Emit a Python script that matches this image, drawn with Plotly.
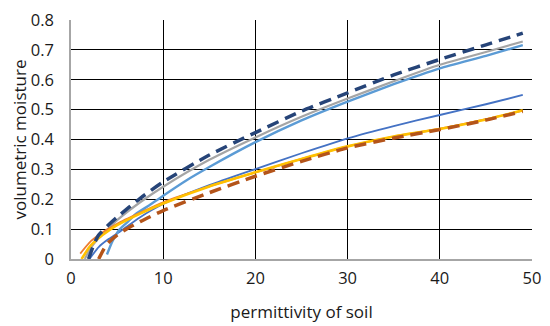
import plotly.graph_objects as go

# Data (permittivity -> volumetric moisture)
x_darkblue = [1.9, 2.5, 3.0, 4.0, 5.0, 7.5, 10, 15, 20, 25, 30, 35, 40, 45, 49]
y_darkblue = [0.0, 0.05, 0.08, 0.112, 0.14, 0.203, 0.258, 0.348, 0.423, 0.495, 0.556, 0.616, 0.668, 0.717, 0.756]

x_gray = [1.5, 2, 3, 4, 5, 7.5, 10, 15, 20, 25, 30, 35, 40, 45, 49]
y_gray = [0.0, 0.03, 0.07, 0.1, 0.13, 0.19, 0.242, 0.332, 0.407, 0.476, 0.537, 0.595, 0.65, 0.693, 0.728]

x_lightblue = [3.9, 4.5, 5.3, 6, 7, 8.5, 10, 12.5, 15, 20, 25, 30, 35, 40, 45, 49]
y_lightblue = [0.015, 0.06, 0.1, 0.12, 0.15, 0.18, 0.212, 0.263, 0.308, 0.391, 0.464, 0.527, 0.585, 0.638, 0.68, 0.716]

x_blue = [2.0, 3, 4, 5, 7.5, 10, 15, 20, 25, 30, 35, 40, 45, 49]
y_blue = [0.0, 0.04, 0.065, 0.085, 0.14, 0.184, 0.247, 0.301, 0.354, 0.404, 0.445, 0.482, 0.518, 0.549]

x_orange = [1.0, 2, 3, 4, 5, 7.5, 10, 15, 20, 25, 30, 35, 40, 45, 49]
y_orange = [0.018, 0.055, 0.08, 0.1, 0.118, 0.155, 0.19, 0.243, 0.29, 0.335, 0.377, 0.41, 0.436, 0.468, 0.497]

x_yellow = [1.15, 2, 3, 4, 5, 7.5, 10, 15, 20, 25, 30, 35, 40, 45, 49]
y_yellow = [0.0, 0.04, 0.07, 0.093, 0.113, 0.152, 0.186, 0.243, 0.29, 0.335, 0.377, 0.41, 0.435, 0.467, 0.498]

x_brown = [3.0, 3.5, 4, 5, 6, 7.5, 10, 15, 20, 25, 30, 35, 40, 45, 49]
y_brown = [0.0, 0.03, 0.053, 0.08, 0.1, 0.125, 0.162, 0.222, 0.277, 0.327, 0.372, 0.405, 0.433, 0.465, 0.494]

x_ticks = [0, 10, 20, 30, 40, 50]
y_ticks = [0, 0.1, 0.2, 0.3, 0.4, 0.5, 0.6, 0.7, 0.8]
y_ticklabels = ["0", "0.1", "0.2", "0.3", "0.4", "0.5", "0.6", "0.7", "0.8"]

fig = go.Figure()

def add(x, y, color, width, dash="solid"):
    fig.add_trace(go.Scatter(x=x, y=y, mode="lines",
                             line=dict(color=color, width=width, dash=dash, shape="spline", smoothing=0.6),
                             showlegend=False, hoverinfo="skip"))

add(x_blue, y_blue, "#4472C4", 1.8)
add(x_gray, y_gray, "#A5A5A5", 2.2)
add(x_lightblue, y_lightblue, "#5B9BD5", 2.4)
add(x_orange, y_orange, "#ED7D31", 1.8)
add(x_yellow, y_yellow, "#FFC000", 2.6)
add(x_brown, y_brown, "#B4541A", 3.5, "12px,7px")
add(x_darkblue, y_darkblue, "#264478", 3.5, "12px,7px")

font = dict(family="Open Sans, sans-serif", size=16.5, color="#1a1a1a")

# page body has an 8px default margin, so the figure is sized to fit the 550x326 window
fig.update_layout(
    width=542, height=318,
    margin=dict(l=63, r=18, t=12, b=67),
    paper_bgcolor="white", plot_bgcolor="white",
    font=font,
    xaxis=dict(range=[0, 50], tickvals=x_ticks, showgrid=True, gridcolor="black", gridwidth=1,
               zeroline=False, showline=True, linecolor="#A6A6A6", linewidth=1.5,
               ticks="", ticklabelstandoff=3, automargin=False, ticklabeloverflow="allow",
               title=dict(text="permittivity of soil", standoff=19, font=dict(size=17))),
    yaxis=dict(range=[0, 0.8], tickvals=y_ticks, ticktext=y_ticklabels, showgrid=True,
               gridcolor="black", gridwidth=1, zeroline=False, showline=True,
               linecolor="#A6A6A6", linewidth=1.5, ticks="", ticklabelstandoff=12, automargin=False,
               ticklabeloverflow="allow",
               title=dict(text="volumetric moisture", standoff=14, font=dict(size=17))),
)

fig.write_html("out.html")
